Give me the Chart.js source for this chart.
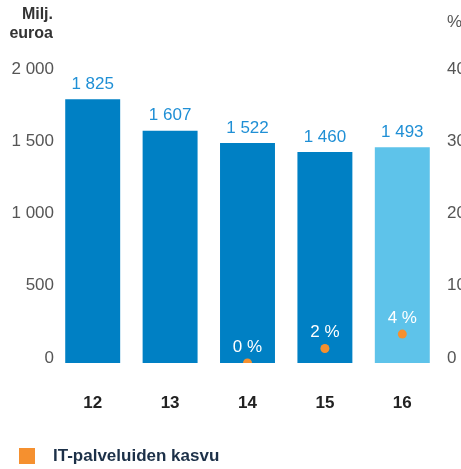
<!DOCTYPE html>
<html>
<head>
<meta charset="utf-8">
<script src="https://cdn.jsdelivr.net/npm/chart.js@4"></script>
<style>
  html, body { margin: 0; padding: 0; background: #fff; }
  #wrap { width: 461px; height: 469px; position: relative; }
</style>
</head>
<body>
<div id="wrap"><canvas id="kuva"></canvas></div>
<script>
// vuodet ja arvot
var vuodet = ["12", "13", "14", "15", "16"];
var liikevaihto = [1825, 1607, 1522, 1460, 1493];
var kasvu = [null, null, 0, 2, 4];
var vasenTicks = [0, 500, 1000, 1500, 2000];
var oikeaTicks = [0, 10, 20, 30, 40];

var tumma = "#0080c4";
var vaalea = "#5ec3ea";
var oranssi = "#f5902f";
var fontti = "'Liberation Sans', Arial, sans-serif";

function luku(v) {
  // 1825 -> "1 825"
  return String(v).replace(/\B(?=(\d{3})+(?!\d))/g, " ");
}

var tekstit = {
  id: "tekstit",
  afterDatasetsDraw: function (chart) {
    var ctx = chart.ctx;
    var y = chart.scales.y, y1 = chart.scales.y1;
    ctx.save();
    ctx.textAlign = "center";
    ctx.textBaseline = "middle";
    // arvot pylvaiden paalle
    ctx.font = "17px " + fontti;
    ctx.fillStyle = "#1f8fd5";
    chart.getDatasetMeta(0).data.forEach(function (bar, i) {
      ctx.fillText(luku(liikevaihto[i]), bar.x, y.getPixelForValue(liikevaihto[i]) - 15);
    });
    // kasvuprosentit valkoisella
    ctx.fillStyle = "#ffffff";
    chart.getDatasetMeta(1).data.forEach(function (p, i) {
      if (kasvu[i] === null) return;
      ctx.fillText(kasvu[i] + " %", p.x, y1.getPixelForValue(kasvu[i]) - 16);
    });
    // akselien otsikot
    ctx.textAlign = "right";
    ctx.fillStyle = "#333333";
    ctx.font = "bold 16px " + fontti;
    ctx.fillText("Milj.", 53, 15);
    ctx.fillText("euroa", 53, 34);
    ctx.textAlign = "left";
    ctx.font = "17px " + fontti;
    ctx.fillStyle = "#555555";
    ctx.fillText("%", 447, 22);
    // selite
    ctx.fillStyle = oranssi;
    ctx.fillRect(19, 448, 16, 16);
    ctx.fillStyle = "#1c3048";
    ctx.font = "bold 17px " + fontti;
    ctx.fillText(chart.data.datasets[1].label, 53, 456);
    ctx.restore();
  }
};

var ctx = document.getElementById("kuva").getContext("2d");
var chart = new Chart(ctx, {
  type: "bar",
  data: {
    labels: vuodet,
    datasets: [
      {
        label: "Liikevaihto",
        data: liikevaihto,
        backgroundColor: [tumma, tumma, tumma, tumma, vaalea],
        borderWidth: 0,
        barPercentage: 0.71,
        categoryPercentage: 1,
        yAxisID: "y",
        order: 2
      },
      {
        type: "line",
        label: "IT-palveluiden kasvu",
        data: kasvu,
        showLine: false,
        pointRadius: 4.5,
        pointBackgroundColor: oranssi,
        pointBorderWidth: 0,
        yAxisID: "y1",
        order: 1
      }
    ]
  },
  options: {
    responsive: true,
    maintainAspectRatio: false,
    animation: false,
    layout: { padding: { top: 74, bottom: 57, left: 0, right: 0 } },
    plugins: { legend: { display: false }, tooltip: { enabled: false } },
    scales: {
      x: {
        afterFit: function (s) { s.height = 49; },
        grid: { display: false, drawTicks: false },
        border: { display: false },
        ticks: {
          padding: 30,
          color: "#222222",
          font: { family: fontti, size: 17, weight: "bold" }
        }
      },
      y: {
        position: "left",
        min: 0, max: 2000,
        afterFit: function (s) { s.width = 54; },
        afterBuildTicks: function (s) { s.ticks = vasenTicks.map(function (v) { return { value: v }; }); },
        grid: { display: false, drawTicks: false },
        border: { display: false },
        ticks: {
          padding: 0,
          labelOffset: -5,
          color: "#555555",
          font: { family: fontti, size: 17 },
          callback: function (v) { return luku(v); }
        }
      },
      y1: {
        position: "right",
        min: 0, max: 40,
        afterFit: function (s) { s.width = 20; },
        afterBuildTicks: function (s) { s.ticks = oikeaTicks.map(function (v) { return { value: v }; }); },
        grid: { display: false, drawTicks: false },
        border: { display: false },
        ticks: {
          padding: 6,
          labelOffset: -5,
          color: "#555555",
          font: { family: fontti, size: 17 }
        }
      }
    }
  },
  plugins: [tekstit]
});
</script>
</body>
</html>
